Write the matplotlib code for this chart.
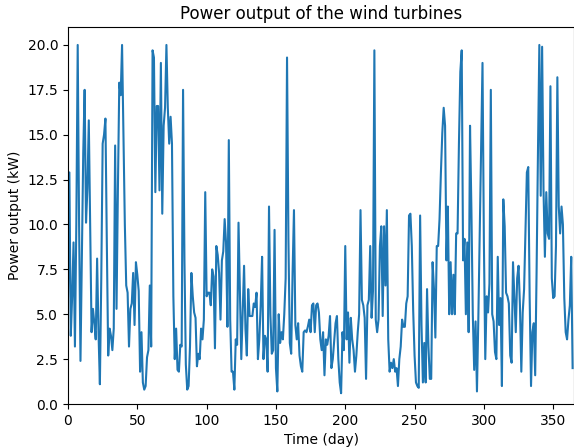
import numpy as np
import matplotlib
matplotlib.use("Agg")
import matplotlib.pyplot as plt

# daily power output (kW)
power = [
    6.0, 12.9, 3.8, 6.0, 9.0, 3.2, 10.0, 20.0, 10.0, 2.4,
    8.0, 14.0, 17.5, 10.1, 12.0, 15.8, 10.0, 4.0, 5.3, 4.5,
    3.6, 8.1, 4.0, 1.1, 7.0, 14.5, 15.0, 15.9, 9.0, 2.7,
    4.2, 3.8, 3.0, 4.2, 14.4, 5.3, 12.0, 17.9, 17.2, 20.0,
    15.0, 10.0, 6.6, 6.2, 3.2, 5.3, 5.6, 7.3, 4.4, 7.9,
    7.2, 6.3, 1.8, 4.0, 1.2, 0.8, 1.0, 2.6, 3.0, 6.6,
    3.2, 19.7, 19.3, 11.8, 16.6, 16.6, 11.9, 19.0, 10.6, 15.5,
    16.5, 20.0, 16.5, 14.5, 16.0, 14.5, 6.0, 2.5, 4.2, 1.9,
    1.8, 3.3, 3.2, 17.5, 8.0, 2.2, 0.8, 1.0, 3.2, 7.3,
    6.0, 5.1, 4.8, 2.1, 2.8, 2.5, 4.2, 3.6, 4.7, 11.8,
    6.0, 6.2, 6.2, 5.5, 7.5, 7.1, 3.1, 8.8, 8.3, 7.3,
    4.7, 8.0, 8.5, 10.3, 9.0, 4.3, 14.7, 4.7, 1.8, 1.8,
    0.8, 3.6, 3.3, 10.1, 6.2, 2.5, 5.0, 7.7, 4.2, 2.7,
    6.4, 4.9, 4.9, 4.9, 5.6, 5.4, 6.2, 2.5, 3.6, 5.5,
    8.2, 2.5, 3.8, 3.6, 1.8, 11.0, 5.0, 2.8, 3.0, 9.7,
    2.0, 0.7, 5.0, 3.4, 4.0, 3.6, 5.0, 7.0, 19.3, 9.2,
    3.4, 2.8, 7.3, 10.8, 4.4, 3.6, 4.5, 2.7, 2.1, 1.8,
    4.0, 4.1, 4.0, 4.3, 4.7, 4.0, 5.5, 5.6, 4.0, 5.5,
    5.6, 5.1, 3.6, 3.0, 4.0, 1.6, 3.6, 3.3, 3.8, 4.9,
    2.0, 2.5, 3.5, 4.5, 4.9, 2.5, 1.2, 0.6, 4.0, 3.0,
    8.8, 3.6, 5.1, 2.3, 4.8, 3.6, 3.0, 1.8, 2.7, 4.0,
    5.0, 10.8, 5.8, 5.5, 4.8, 1.4, 5.5, 5.8, 8.8, 4.8,
    6.3, 19.7, 4.7, 4.0, 4.7, 8.8, 9.9, 4.9, 9.9, 6.6,
    10.8, 3.6, 1.8, 2.3, 2.0, 2.5, 1.8, 2.0, 1.0, 2.5,
    3.2, 4.7, 4.3, 4.3, 5.6, 6.0, 10.5, 10.6, 8.8, 5.2,
    2.7, 1.2, 1.0, 0.9, 10.5, 4.4, 1.2, 3.4, 1.2, 6.4,
    3.2, 1.4, 1.4, 7.9, 6.4, 3.7, 8.8, 8.8, 10.3, 12.9,
    15.1, 16.5, 15.5, 8.0, 11.0, 5.0, 7.9, 5.0, 7.2, 5.0,
    9.5, 9.5, 14.5, 18.5, 19.7, 8.0, 9.2, 5.0, 9.0, 4.0,
    15.5, 10.8, 5.0, 1.9, 4.6, 0.7, 4.8, 9.5, 14.0, 19.0,
    9.0, 2.5, 6.0, 5.1, 6.7, 17.5, 5.0, 4.6, 2.9, 2.5,
    8.2, 4.4, 5.9, 1.0, 11.4, 9.9, 6.2, 6.0, 5.6, 2.7,
    2.3, 7.9, 5.9, 4.0, 7.0, 7.7, 5.5, 1.8, 5.1, 6.4,
    9.7, 12.9, 13.2, 6.0, 1.0, 4.0, 4.5, 1.6, 7.3, 14.0,
    20.0, 11.6, 19.9, 12.0, 8.2, 11.8, 9.5, 9.2, 17.7, 7.0,
    5.9, 6.0, 8.8, 18.2, 11.0, 9.5, 11.0, 10.0, 5.9, 4.0,
    3.6, 4.7, 5.5, 8.2, 2.0,
]
days = np.arange(len(power))

fig = plt.figure(figsize=(5.74, 4.48), dpi=100)
ax = fig.add_axes([68/574, 44/448, 506/574, 377/448])
ax.plot(days, power, color="#1f77b4", lw=1.5)
ax.set_xlim(0, 365)
ax.set_ylim(0, 21)
ax.set_title("Power output of the wind turbines")
ax.set_xlabel("Time (day)")
ax.set_ylabel("Power output (kW)")
fig.savefig("out.png", dpi=100)
